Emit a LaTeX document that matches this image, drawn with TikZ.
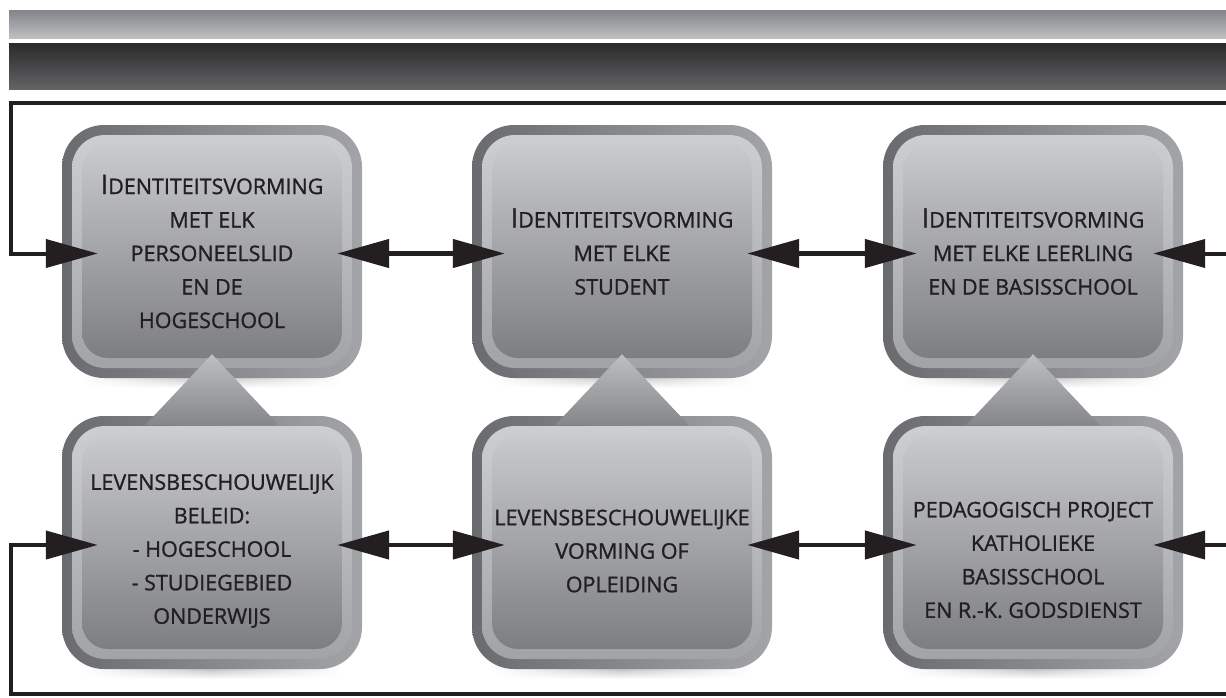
\documentclass[tikz,border=0pt]{standalone}
\usepackage{fontspec}
\setmainfont{Open Sans}
\newfontfamily\panelfont{Open Sans}[FakeBold=1.1]
\usetikzlibrary{arrows.meta,fadings}

\definecolor{inkcol}{HTML}{231F20}
\definecolor{barAtop}{HTML}{848589}
\definecolor{barAbot}{HTML}{BEBFC1}
\definecolor{barBtop}{HTML}{2A2A2B}
\definecolor{barBbot}{HTML}{636365}
\definecolor{rimL}{HTML}{6A6B6F}
\definecolor{rimR}{HTML}{A3A4A8}
\definecolor{bandT}{HTML}{CDCED0}
\definecolor{bandB}{HTML}{A2A3A7}
\definecolor{faceT}{HTML}{C9CACD}
\definecolor{faceB}{HTML}{7D7E82}
\definecolor{triT}{HTML}{BEBFC2}
\definecolor{triB}{HTML}{85868A}

\tikzfading[name=sidefade, left color=transparent!100, right color=transparent!100, middle color=transparent!0]

\tikzset{
  boxtext/.style={align=center, text=inkcol, inner sep=0pt,
    minimum width=300pt, minimum height=253pt,
    font=\panelfont\fontsize{21.5}{33.5}\selectfont},
  tiphead/.tip={Triangle[length=52pt,width=28pt]},
  linkarrow/.style={draw=inkcol, line width=4.5pt, tiphead-tiphead},
  feedarrow/.style={draw=inkcol, line width=4pt, -tiphead},
  pyramid/.style={top color=triT, bottom color=triB},
}

% one bevelled panel: name, left x, top y, text offset, text
\newcommand\panelbox[5]{%
  \shade[top color=black!45, bottom color=white, path fading=sidefade]
    (#2+20,#3+243) rectangle (#2+280,#3+263);
  \shade[rounded corners=42pt, left color=rimL, right color=rimR]
    (#2,#3) rectangle (#2+300,#3+253);
  \shade[rounded corners=33pt, top color=bandT, bottom color=bandB]
    (#2+10,#3+10) rectangle (#2+290,#3+243);
  \shade[rounded corners=26pt, top color=faceT, bottom color=faceB]
    (#2+20,#3+19) rectangle (#2+280,#3+233);
  \node[boxtext] (#1) at (#2+150,#3+126.5+#4) {#5};
}
\newcommand\bigI{{\fontsize{27}{33.5}\selectfont I}}

\begin{document}
\begin{tikzpicture}[x=1pt,y=-1pt]
\useasboundingbox (0,0) rectangle (1226,697);

% header bars
\shade[top color=barAtop, bottom color=barAbot] (9,10) rectangle (1226,38);
\shade[top color=barBtop, bottom color=barBbot] (9,43) rectangle (1226,89);

% panels
\panelbox{b1}{62}{125}{0}{\bigI DENTITEITSVORMING\\MET ELK\\PERSONEELSLID\\EN DE\\HOGESCHOOL}
\panelbox{b2}{472}{125}{0}{\bigI DENTITEITSVORMING\\MET ELKE\\STUDENT}
\panelbox{b3}{883}{125}{0}{\bigI DENTITEITSVORMING\\MET ELKE LEERLING\\EN DE BASISSCHOOL}
\panelbox{b4}{62}{416}{8.5}{LEVENSBESCHOUWELIJK\\BELEID:\\- HOGESCHOOL\\- STUDIEGEBIED\\ONDERWIJS}
\panelbox{b5}{472}{416}{8.5}{LEVENSBESCHOUWELIJKE\\VORMING OF\\OPLEIDING}
\panelbox{b6}{883}{416}{8.5}{\mbox{}\\PEDAGOGISCH PROJECT\\KATHOLIEKE\\BASISSCHOOL\\EN R.-K. GODSDIENST}

% pyramids joining each lower panel to the upper one
\foreach \u/\l in {b1/b4, b2/b5, b3/b6}{
  \shade[pyramid] ([yshift=24pt]\u.south) -- ([xshift=67pt,yshift=-1pt]\l.north)
    -- ([xshift=-67pt,yshift=-1pt]\l.north) -- cycle;
}

% two-way links
\draw[linkarrow] ([xshift=-25pt,yshift=-2pt]b1.east) -- ([xshift=33pt,yshift=-2pt]b2.west);
\draw[linkarrow] ([xshift=-25pt,yshift=-2pt]b2.east) -- ([xshift=34pt,yshift=-2pt]b3.west);
\draw[linkarrow] ([xshift=-25pt,yshift=6pt]b4.east) -- ([xshift=33pt,yshift=6pt]b5.west);
\draw[linkarrow] ([xshift=-25pt,yshift=6pt]b5.east) -- ([xshift=34pt,yshift=6pt]b6.west);

% feedback frame
\coordinate (topR) at (1226,102.5);
\coordinate (topL) at (11,102.5);
\coordinate (botR) at (1226,694);
\coordinate (botL) at (11,694);
\coordinate (midR1) at (1226,253.5);
\coordinate (midR2) at (1226,545);
\draw[feedarrow] (topR) -- (topL) |- ([xshift=36pt,yshift=-2pt]b1.west);
\draw[feedarrow] (botR) -- (botL) |- ([xshift=36pt,yshift=6pt]b4.west);
\draw[feedarrow] (midR1) -- ([xshift=-30pt,yshift=-2pt]b3.east);
\draw[feedarrow] (midR2) -- ([xshift=-30pt,yshift=6pt]b6.east);
\end{tikzpicture}
\end{document}
